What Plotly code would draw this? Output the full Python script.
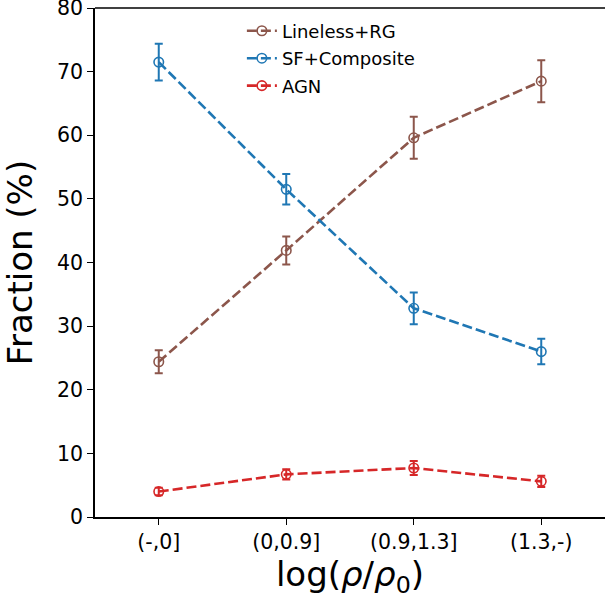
import plotly.graph_objects as go

categories = ["(-,0]", "(0,0.9]", "(0.9,1.3]", "(1.3,-)"]

lineless_rg = [24.4, 41.9, 59.6, 68.5]
lineless_rg_err = [1.8, 2.2, 3.3, 3.3]

sf_composite = [71.5, 51.5, 32.8, 26.0]
sf_composite_err = [2.9, 2.4, 2.5, 2.0]

agn = [4.0, 6.7, 7.7, 5.6]
agn_err = [0.6, 0.8, 1.1, 0.9]

y_ticks = [0, 10, 20, 30, 40, 50, 60, 70, 80]

series = [
    ("Lineless+RG", lineless_rg, lineless_rg_err, "#8c564b"),
    ("SF+Composite", sf_composite, sf_composite_err, "#1f77b4"),
    ("AGN", agn, agn_err, "#d62728"),
]

fig = go.Figure()
for i, (name, vals, errs, color) in enumerate(series):
    fig.add_trace(go.Scatter(
        x=list(range(len(categories))), y=vals, name=name,
        mode="lines+markers",
        line=dict(color=color, width=2.6, dash="10px,4px"),
        marker=dict(symbol="circle-open", size=9.5, color=color, line=dict(width=1.6, color=color)),
        error_y=dict(type="data", array=errs, visible=True, color=color, thickness=2, width=4),
        legendgroup=f"g{i}",
        cliponaxis=False,
    ))

# top frame line (axes box top edge)
fig.add_shape(type="line", xref="paper", yref="paper", x0=0, x1=1, y0=1, y1=1,
              line=dict(color="black", width=1.5))

fig.update_layout(
    width=605, height=600,
    margin=dict(l=95, r=0, t=8, b=83, autoexpand=False),
    plot_bgcolor="white", paper_bgcolor="white",
    font=dict(family="DejaVu Sans", color="black"),
    showlegend=True,
    legend=dict(
        x=0.288, y=0.991, xanchor="left", yanchor="top",
        bgcolor="rgba(0,0,0,0)", font=dict(size=18, family="DejaVu Sans"),
        traceorder="grouped", tracegroupgap=1,
    ),
    xaxis=dict(
        range=[-0.5, 3.5], automargin=False,
        tickmode="array", tickvals=list(range(len(categories))), ticktext=categories,
        showgrid=False, zeroline=False,
        showline=True, linecolor="black", linewidth=1.5, mirror=False,
        ticks="outside", ticklen=6, tickwidth=1.3, tickcolor="black",
        tickfont=dict(size=20.5, family="DejaVu Sans"),
        title=dict(text="log(<i>ρ</i>/<i>ρ</i><sub>0</sub>)", font=dict(size=34, family="DejaVu Sans"), standoff=6),
    ),
    yaxis=dict(
        range=[0, 80], automargin=False, ticklabeloverflow="allow",
        tickmode="array", tickvals=y_ticks,
        showgrid=False, zeroline=False,
        showline=True, linecolor="black", linewidth=1.5, mirror=False,
        ticks="outside", ticklen=6, tickwidth=1.3, tickcolor="black",
        tickfont=dict(size=20.5, family="DejaVu Sans"),
        title=dict(text="Fraction (%)", font=dict(size=34, family="DejaVu Sans"), standoff=14),
    ),
)

fig.write_html(
    "out.html",
    config={"displayModeBar": False},
    post_script="document.body.style.margin='0';document.body.style.overflow='hidden';",
)
